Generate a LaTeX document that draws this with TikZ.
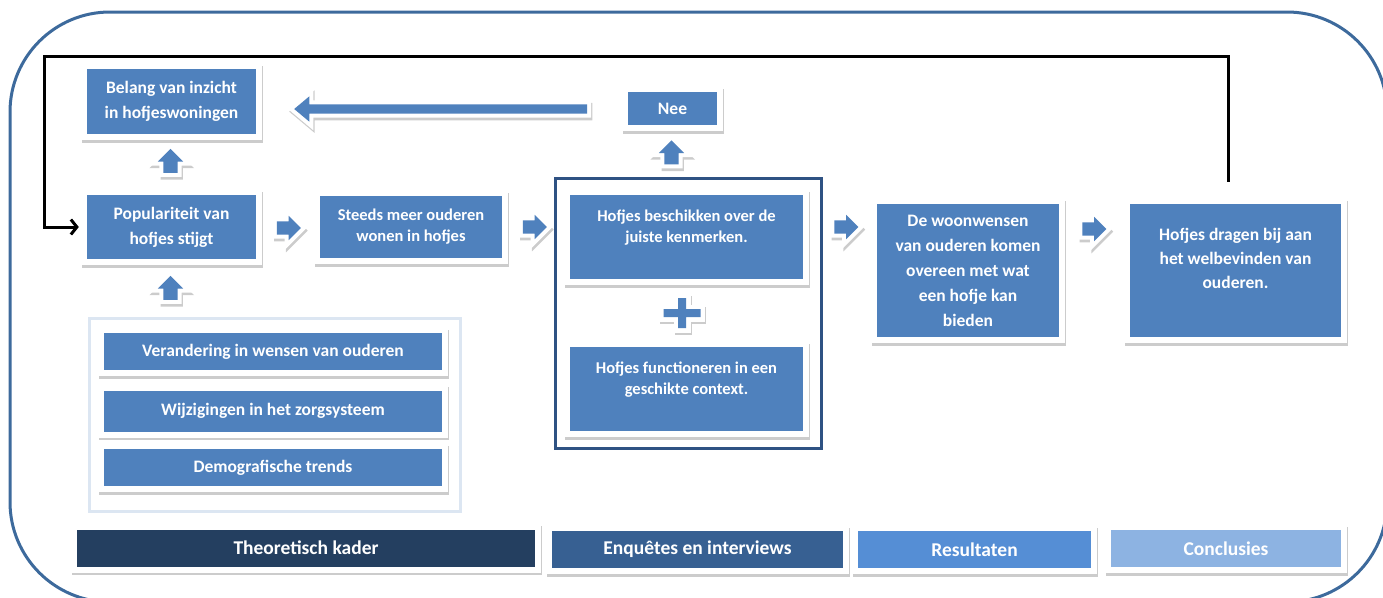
\documentclass[tikz,border=0pt]{standalone}
\usepackage{fontspec}
\setmainfont{Carlito}
\usepackage{tikz}
\usetikzlibrary{arrows.meta,shapes.arrows,calc}
\definecolor{hofblauw}{HTML}{4F81BD}
\definecolor{kaderblauw}{HTML}{243F60}
\definecolor{enqblauw}{HTML}{376092}
\definecolor{resblauw}{HTML}{558ED5}
\definecolor{conblauw}{HTML}{8DB3E2}
\definecolor{randblauw}{HTML}{3D6A9C}
\definecolor{groepblauw}{HTML}{2F5283}
\definecolor{lichtrand}{HTML}{DCE6F2}

\begin{document}
\begin{tikzpicture}[x=1pt, y=-1pt,
      schaduw/.style={preaction={draw=black!20, fill=black!20, line width=#1,
                        transform canvas={shift={(1.2pt,-2.6pt)}}},
                      preaction={draw=white, fill=white, line width=#1}},
      blok/.style={rectangle, fill=hofblauw, text=white, inner sep=0pt, align=center,
                   font=\bfseries\fontsize{17.5}{25}\selectfont, schaduw=12pt},
      klein/.style={font=\bfseries\fontsize{16.5}{21}\selectfont},
      balk/.style={blok, font=\bfseries\fontsize{19.5}{22}\selectfont, minimum height=37pt},
      pijl/.style={single arrow, fill=hofblauw, inner xsep=0pt, inner ysep=6.5pt,
                   minimum height=24pt, single arrow head extend=5.5pt,
                   single arrow tip angle=90, schaduw=8pt},
      pijlop/.style={pijl, shape border rotate=90, inner xsep=7pt, inner ysep=0pt},
      terug/.style={line width=3pt, -{Straight Barb[length=6pt,width=15pt]}}]
  \useasboundingbox (0,0) rectangle (1383,597);
  \draw[randblauw, line width=3pt, rounded corners=100pt] (10,12) rectangle (1387,602);

  % kaders
  \node[draw=lichtrand, line width=3pt, minimum width=371pt, minimum height=193pt,
        inner sep=0pt] (trends) at (274.5,414.5) {};
  \node[draw=groepblauw, line width=3pt, minimum width=266pt, minimum height=270pt,
        inner sep=0pt] (hofje) at (688,313) {};

  % blokken
  \node[blok, minimum width=169pt, minimum height=65pt] (belang) at (171.5,101.5)
       {Belang van inzicht\\in hofjeswoningen};
  \node[blok, minimum width=169pt, minimum height=64pt] (popu) at (171.5,227)
       {Populariteit van\\hofjes stijgt};
  \node[blok, klein, minimum width=182pt, minimum height=62pt] (meer) at (411,227)
       {Steeds meer ouderen\\wonen in hofjes};
  \node[blok, minimum width=89pt, minimum height=33pt] (nee) at (672.5,108.5) {Nee};
  \node[blok, klein, minimum width=233pt, minimum height=84pt] (kenm) at (686.5,237)
       {Hofjes beschikken over de\\juiste kenmerken.\\\mbox{}};
  \node[blok, klein, minimum width=233pt, minimum height=84pt] (cont) at (686.5,389)
       {Hofjes functioneren in een\\geschikte context.\\\mbox{}};
  \node[blok, minimum width=182pt, minimum height=133pt] (woon) at (968,270.5)
       {De woonwensen\\van ouderen komen\\overeen met wat\\een hofje kan\\bieden};
  \node[blok, font=\bfseries\fontsize{17.5}{24}\selectfont, minimum width=211pt,
        minimum height=133pt] (welb) at (1235.5,270.5)
       {Hofjes dragen bij aan\\het welbevinden van\\ouderen.\\\mbox{}};

  \node[blok, minimum width=338pt, minimum height=37pt] (veran) at (273,351.5)
       {Verandering in wensen van ouderen};
  \node[blok, minimum width=338pt, minimum height=41pt] (zorg) at (273,411)
       {Wijzigingen in het zorgsysteem};
  \node[blok, minimum width=338pt, minimum height=37pt] (demo) at (273,467.5)
       {Demografische trends};

  % fasen
  \node[balk, fill=kaderblauw, minimum width=458pt] (kader) at (306,548) {Theoretisch kader};
  \node[balk, fill=enqblauw, minimum width=291pt] (enq) at (697.5,549.5) {Enquêtes en interviews};
  \node[balk, fill=resblauw, minimum width=233pt] (res) at (974.5,549.5) {Resultaten};
  \node[balk, fill=conblauw, minimum width=230pt] (concl) at (1226,548.5) {Conclusies};

  % blokpijlen
  \node[pijlop] (p1) at (170.5,164.5) {};
  \node[pijlop] (p2) at (170.5,291.5) {};
  \node[pijl] (p3) at (285.5,228) {};
  \node[pijl] (p4) at (531.5,227) {};
  \node[pijl] (p5) at (843,227) {};
  \node[pijl] (p6) at (1091,229) {};
  \node[pijlop] (p7) at (671.5,156) {};
  \node[pijl, shape border rotate=180, minimum height=293pt, inner ysep=4.5pt,
        single arrow head extend=8pt, single arrow tip angle=80] (p8) at (443.5,109) {};

  % plusteken
  \coordinate (plus) at (682,313);
  \path[shift={(plus)}, fill=hofblauw, schaduw=9pt]
    (-18.5,-4) -- (-4,-4) -- (-4,-15) -- (4,-15) -- (4,-4) -- (18.5,-4)
    -- (18.5,4) -- (4,4) -- (4,15) -- (-4,15) -- (-4,4) -- (-18.5,4) -- cycle;

  % terugkoppeling
  \coordinate (hoek) at (44,56);
  \draw[terug] ($(welb.north)+(-7.5,-22)$) |- (hoek) |- ([xshift=-8pt]popu.west);
\end{tikzpicture}
\end{document}
